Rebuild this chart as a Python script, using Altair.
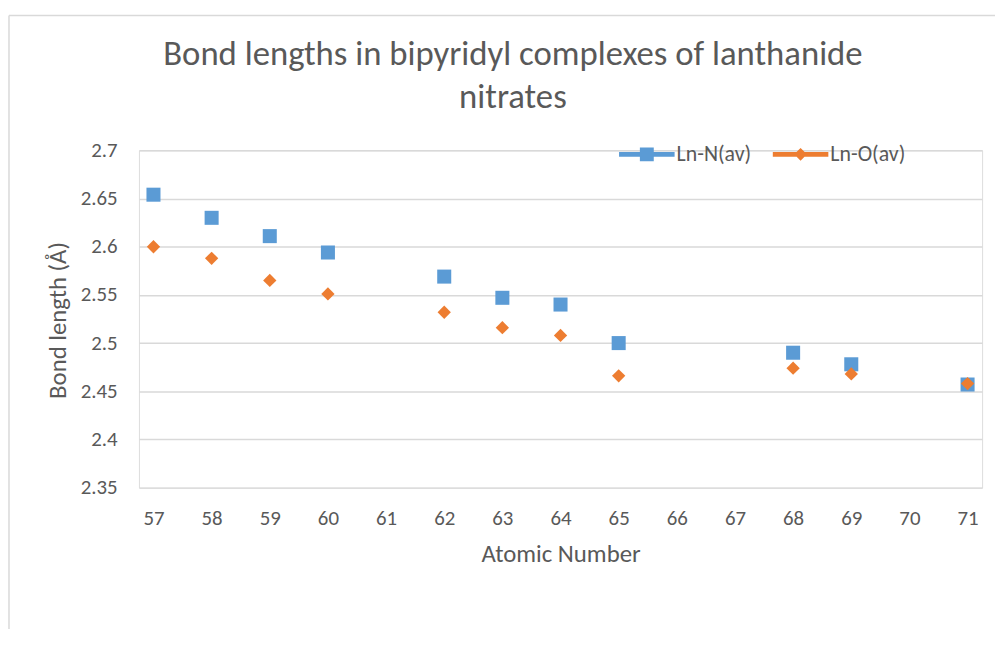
import altair as alt
import pandas as pd

atomic_numbers = [57, 58, 59, 60, 62, 63, 64, 65, 68, 69, 71]
ln_n = [2.654, 2.630, 2.611, 2.594, 2.569, 2.547, 2.540, 2.500, 2.490, 2.478, 2.457]
ln_o = [2.600, 2.588, 2.565, 2.551, 2.532, 2.516, 2.508, 2.466, 2.474, 2.468, 2.458]
series_names = ["Ln-N(av)", "Ln-O(av)"]
x_ticks = list(range(57, 72))
y_ticks = [2.35, 2.4, 2.45, 2.5, 2.55, 2.6, 2.65, 2.7]

rows = []
for name, vals in zip(series_names, [ln_n, ln_o]):
    for a, v in zip(atomic_numbers, vals):
        rows.append({"Atomic Number": a, "Bond length": v, "Series": name})
df = pd.DataFrame(rows)

FONT = "Carlito, 'Liberation Sans Narrow', 'Open Sans', sans-serif"
TXT = "#595959"
BLUE = "#5B9BD5"
ORANGE = "#ED7D31"

path_n = "M-1,-0.085L1,-0.085L1,0.085L-1,0.085Z M-0.25,-0.25L0.25,-0.25L0.25,0.25L-0.25,0.25Z"
path_o = "M-1,-0.085L1,-0.085L1,0.085L-1,0.085Z M0,-0.23L0.23,0L0,0.23L-0.23,0Z"

x_enc = alt.X("Atomic Number:Q",
              scale=alt.Scale(domain=[56.75, 71.25], nice=False, zero=False),
              axis=alt.Axis(values=x_ticks, format="d", grid=False, domain=False, ticks=False,
                            labelPadding=20, labelFontSize=21, labelColor=TXT, labelFont=FONT,
                            title="Atomic Number", titleFontSize=25, titleFont=FONT,
                            titleFontWeight="normal", titleColor=TXT,
                            titleX=425, titleY=66, titleBaseline="middle", titleAlign="center"))
y_enc = alt.Y("Bond length:Q",
              scale=alt.Scale(domain=[2.35, 2.7], nice=False, zero=False),
              axis=alt.Axis(values=y_ticks, format="~g", grid=True, gridColor="#D9D9D9",
                            gridWidth=1.5, domain=False, ticks=False,
                            labelPadding=22, labelFontSize=21, labelColor=TXT, labelFont=FONT,
                            title="Bond length (Å)", titleFontSize=25, titleFont=FONT,
                            titleFontWeight="normal", titleColor=TXT,
                            titleAngle=270, titleX=-82, titleY=171,
                            titleBaseline="middle", titleAlign="center"))

frame_df = pd.DataFrame({"k": [0]})
border_top = alt.Chart(frame_df).mark_rule(
    color="#D9D9D9", strokeWidth=1.5, clip=False
).encode(x=alt.value(-131), x2=alt.value(1000), y=alt.value(-136))
border_left = alt.Chart(frame_df).mark_rule(
    color="#D9D9D9", strokeWidth=1.5, clip=False
).encode(x=alt.value(-131), y=alt.value(-136), y2=alt.value(700))

points = alt.Chart(df).mark_point(filled=True, opacity=1).encode(
    x=x_enc, y=y_enc,
    color=alt.Color("Series:N", scale=alt.Scale(domain=series_names, range=[BLUE, ORANGE]),
                    legend=None),
    shape=alt.Shape("Series:N", scale=alt.Scale(domain=series_names, range=["square", "diamond"]),
                    legend=None),
    size=alt.Size("Series:N", scale=alt.Scale(domain=series_names, range=[200, 180]), legend=None),
)

leg = alt.Legend(
    title=None, orient="none", direction="horizontal",
    legendX=484, legendY=-24, padding=0, columnPadding=21,
    labelFontSize=22, labelColor=TXT, labelFont=FONT, labelOffset=2,
    symbolSize=3136, symbolOpacity=1, symbolStrokeWidth=0,
)

legend_layer = alt.Chart(df).mark_point(filled=True, opacity=0).encode(
    x=x_enc, y=y_enc,
    color=alt.Color("Series:N", scale=alt.Scale(domain=series_names, range=[BLUE, ORANGE]),
                    legend=leg),
    shape=alt.Shape("Series:N", scale=alt.Scale(domain=series_names, range=[path_n, path_o]),
                    legend=leg),
)

chart = alt.layer(border_top, border_left, points, legend_layer).resolve_scale(
    color="independent", shape="independent"
).properties(
    width=850, height=340,
    title=alt.TitleParams(
        text=["Bond lengths in bipyridyl complexes of lanthanide", "nitrates"],
        anchor="middle", frame="group", dx=-48, offset=-101,
        fontSize=35, font=FONT, fontWeight="normal", color=TXT, lineHeight=43
    ),
    autosize=alt.AutoSizeParams(type="none"),
    padding={"left": 132, "top": 141, "right": 13, "bottom": 140},
).configure_view(stroke=None).configure(background="white")

chart.save("out.html", embed_options={"renderer": "svg", "actions": False})
